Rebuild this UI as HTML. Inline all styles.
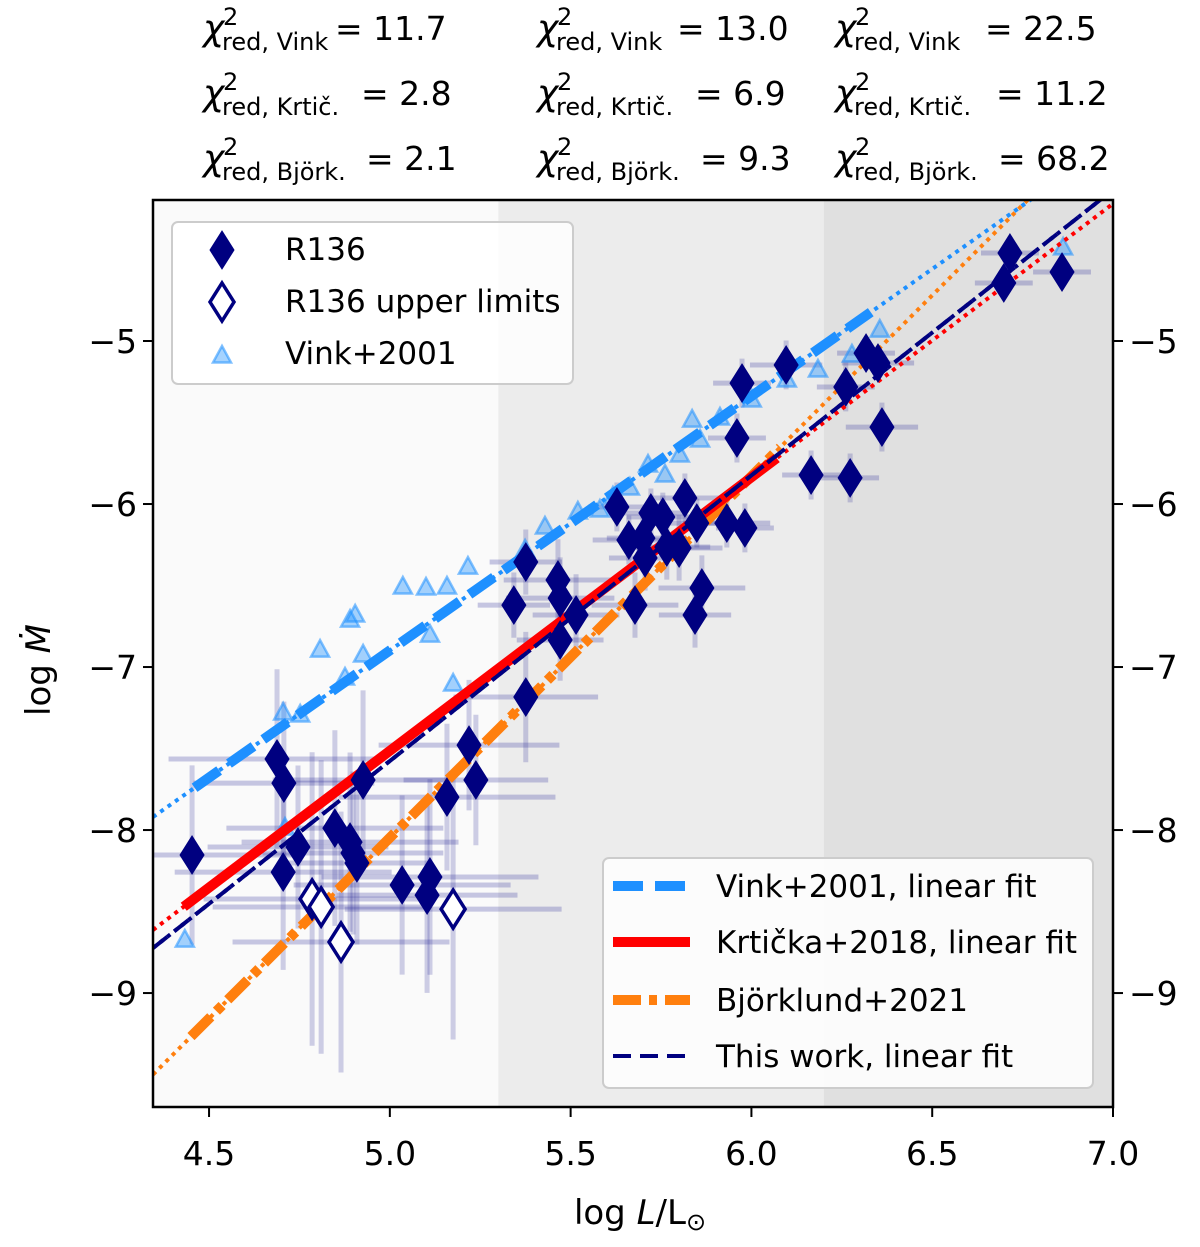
<!DOCTYPE html>
<html><head><meta charset="utf-8"><style>
body{margin:0;background:#fff}
svg text{font-family:"DejaVu Sans","Liberation Sans",sans-serif;fill:#000}
</style></head><body>
<svg id="chart" width="1200" height="1242" viewBox="0 0 1200 1242" xmlns="http://www.w3.org/2000/svg">
<g id="chi"></g>
<defs><clipPath id="clip"><rect x="153" y="200" width="960" height="907"/></clipPath></defs>
<g id="bg"></g>
<g id="plot" clip-path="url(#clip)"></g>
<rect x="153" y="200" width="960" height="907" fill="none" stroke="#000" stroke-width="2.5"/>
<g id="axes"></g>
<text x="640" y="1224" font-size="34" text-anchor="middle">log <tspan font-style="italic">L</tspan>/L<tspan font-size="24" dy="6">⊙</tspan></text>
<text transform="translate(50,670) rotate(-90)" font-size="34" text-anchor="middle">log <tspan font-style="italic">Ṁ</tspan></text>
<g id="legend1"></g>
<g id="legend2"></g>
</svg>
<script>
const NS="http://www.w3.org/2000/svg";
// ---- data ----
const r136X=[4.453,4.688,4.707,4.705,4.746,4.848,4.890,4.898,4.909,4.926,5.034,5.111,5.103,5.158,5.219,5.238,5.376,5.376,5.343,5.465,5.471,5.515,5.471,5.628,5.661,5.700,5.722,5.755,5.766,5.800,5.816,5.849,5.932,5.982,5.960,5.974,6.096,5.678,5.706,5.863,5.844,6.165,6.273,6.261,6.361,6.317,6.350,6.698,6.715,6.859];
const r136Y=[-8.153,-7.564,-7.712,-8.258,-8.104,-7.988,-8.074,-8.141,-8.202,-7.693,-8.337,-8.288,-8.399,-7.798,-7.479,-7.693,-7.184,-6.356,-6.620,-6.466,-6.577,-6.681,-6.834,-6.018,-6.221,-6.209,-6.055,-6.080,-6.264,-6.270,-5.963,-6.117,-6.117,-6.147,-5.595,-5.258,-5.147,-6.620,-6.331,-6.515,-6.681,-5.822,-5.840,-5.282,-5.528,-5.074,-5.135,-4.644,-4.460,-4.577];
const r136XErr=[0.30,0.30,0.25,0.30,0.25,0.30,0.30,0.25,0.20,0.25,0.30,0.30,0.25,0.30,0.25,0.20,0.20,0.10,0.10,0.15,0.15,0.12,0.12,0.08,0.10,0.10,0.10,0.10,0.12,0.12,0.10,0.12,0.12,0.08,0.08,0.08,0.10,0.12,0.10,0.12,0.10,0.08,0.08,0.08,0.10,0.08,0.10,0.08,0.08,0.08];
const r136YErr=[0.55,0.55,0.50,0.60,0.50,0.60,0.55,0.50,0.50,0.55,0.55,0.60,0.60,0.45,0.40,0.40,0.40,0.20,0.20,0.25,0.25,0.25,0.25,0.15,0.15,0.15,0.15,0.15,0.20,0.20,0.15,0.15,0.15,0.15,0.15,0.15,0.15,0.20,0.20,0.20,0.20,0.15,0.15,0.15,0.15,0.10,0.10,0.10,0.10,0.10];
const ulX=[4.785,4.810,4.865,5.175];
const ulY=[-8.423,-8.472,-8.687,-8.485];
const ulXErr=[0.30,0.30,0.30,0.30];
const ulYErr=[0.9,0.9,0.8,0.8];
const vinkX=[4.433,4.705,4.752,4.710,4.807,4.876,4.890,4.904,4.926,5.036,5.100,5.158,5.111,5.216,5.175,5.374,5.429,5.520,5.581,5.617,5.664,5.714,5.761,5.802,5.836,5.858,5.913,6.001,6.098,6.184,6.278,6.355,6.862];
const vinkY=[-8.675,-7.282,-7.294,-7.988,-6.896,-7.067,-6.712,-6.681,-6.926,-6.509,-6.515,-6.509,-6.804,-6.387,-7.104,-6.282,-6.141,-6.049,-6.037,-5.957,-5.902,-5.761,-5.822,-5.699,-5.485,-5.607,-5.472,-5.362,-5.239,-5.178,-5.086,-4.933,-4.429];
// fits: [intercept at x=4.345, slope, solid start, solid end]
const vinkFit=[-7.92,1.56,4.46,6.33];
const krtFit=[-8.613,1.678,4.43,6.07];
const thisFit=[-8.724,1.752,4.345,7.0];
const bjoFit=[-9.50,2.218,4.45,6.08];
const xTicks=[4.5,5.0,5.5,6.0,6.5,7.0];
const yTicks=[-5,-6,-7,-8,-9];
const chiCols=[["11.7","2.8","2.1"],["13.0","6.9","9.3"],["22.5","11.2","68.2"]];
const chiNames=["Vink","Krtič.","Björk."];
// ---- scales ----
const X0=4.345,X1=7.0,Y0=-4.135,Y1=-9.699,L=153,R=1113,T=200,B=1107;
const sx=v=>L+(v-X0)/(X1-X0)*(R-L);
const sy=v=>T+(v-Y0)/(Y1-Y0)*(B-T);
function el(tag,attrs,parent){const e=document.createElementNS(NS,tag);for(const k in attrs)e.setAttribute(k,attrs[k]);parent.appendChild(e);return e;}
const plot=document.getElementById('plot'),bg=document.getElementById('bg'),axes=document.getElementById('axes');
// background bands
let b1=el('rect',{x:L,y:T,width:sx(5.3)-L,height:B-T,fill:'#fafafa'},bg);


let b2=el('rect',{x:sx(5.3),y:T,width:sx(6.2)-sx(5.3),height:B-T,fill:'#ececec'},bg);


let b3=el('rect',{x:sx(6.2),y:T,width:R-sx(6.2),height:B-T,fill:'#e0e0e0'},bg);


// error bars
function errs(xs,ys,xe,ye){for(let i=0;i<xs.length;i++){
 let h=el('line',{x1:sx(xs[i]-xe[i]),x2:sx(xs[i]+xe[i]),y1:sy(ys[i]),y2:sy(ys[i]),stroke:'rgba(40,40,150,0.25)','stroke-width':5},plot);
 
 
 let v=el('line',{x1:sx(xs[i]),x2:sx(xs[i]),y1:sy(ys[i]-ye[i]),y2:sy(ys[i]+ye[i]),stroke:'rgba(40,40,150,0.22)','stroke-width':5},plot);
 
 }}
errs(r136X,r136Y,r136XErr,r136YErr);errs(ulX,ulY,ulXErr,ulYErr);
// triangles
function tri(cx,cy,s,parent){return el('path',{d:`M${cx},${cy-s} L${cx+s*0.9},${cy+s*0.65} L${cx-s*0.9},${cy+s*0.65}Z`,fill:'rgba(30,144,255,0.4)',stroke:'rgba(30,144,255,0.55)','stroke-width':2.5},parent);}
for(let i=0;i<vinkX.length;i++){const t=tri(sx(vinkX[i]),sy(vinkY[i]),10,plot);
 
 }
// fit lines
function fit(f,color,w,dash,name){
 const fy=x=>f[0]+f[1]*(x-4.345);
 const d1=el('line',{x1:sx(X0),y1:sy(fy(X0)),x2:sx(X1),y2:sy(fy(X1)),stroke:color,'stroke-width':4,'stroke-dasharray':'4 5'},plot);
 
 
 const s=el('line',{x1:sx(f[2]),y1:sy(fy(f[2])),x2:sx(f[3]),y2:sy(fy(f[3])),stroke:color,'stroke-width':w,'stroke-dasharray':dash},plot);
 
 }
fit(vinkFit,'#1e90ff',10,'30 12','vink-fit-line');
fit(bjoFit,'#ff7f0e',10,'28 8 8 8','bjorklund-line');
fit(krtFit,'#ff0000',10,'none','krticka-fit-line');
fit(thisFit,'#000080',4,'18 9','this-work-fit-line');
// diamonds
function dia(cx,cy,fill,parent){return el('path',{d:`M${cx},${cy-19} L${cx+12},${cy} L${cx},${cy+19} L${cx-12},${cy}Z`,fill:fill,stroke:'#000080','stroke-width':fill=='#fff'?3.5:1},parent);}
for(let i=0;i<r136X.length;i++){const d=dia(sx(r136X[i]),sy(r136Y[i]),'#000080',plot);
 
 }
for(let i=0;i<ulX.length;i++){const d=dia(sx(ulX[i]),sy(ulY[i]),'#fff',plot);
 
 }
// axes ticks
xTicks.forEach(t=>{const x=sx(t);
 el('line',{x1:x,x2:x,y1:B,y2:B+10,stroke:'#000','stroke-width':2},axes);
 const tx=el('text',{x:x,y:B+58,'font-size':33,'text-anchor':'middle'},axes);tx.textContent=t.toFixed(1);
 
 });
yTicks.forEach(t=>{const y=sy(t);
 el('line',{x1:L-10,x2:L,y1:y,y2:y,stroke:'#000','stroke-width':2},axes);
 el('line',{x1:R,x2:R+10,y1:y,y2:y,stroke:'#000','stroke-width':2},axes);
 const a=el('text',{x:L-16,y:y+12,'font-size':33,'text-anchor':'end'},axes);a.textContent='−'+Math.abs(t);
 
 
 const b=el('text',{x:R+16,y:y+12,'font-size':33,'text-anchor':'start'},axes);b.textContent='−'+Math.abs(t);
 
 });
// chi annotations
const chi=document.getElementById('chi');
const colX=[203,537,835],rowY=[40,105,170],eqOff=[[132,158,163],[140,158,163],[150,161,163]];
chiCols.forEach((col,c)=>col.forEach((v,r)=>{
 const g=el('g',{},chi);
 
 
 const x=colX[c],y=rowY[r];
 const t1=el('text',{x:x,y:y,'font-size':36,'font-style':'italic','font-family':'"Liberation Serif",serif'},g);t1.textContent='χ';
 const t2=el('text',{x:x+20,y:y-15,'font-size':24},g);t2.textContent='2';
 const t3=el('text',{x:x+19,y:y+10,'font-size':24},g);t3.textContent='red, '+chiNames[r];
 const t4=el('text',{x:x+eqOff[c][r],y:y,'font-size':33},g);t4.textContent='= '+v;}));
// legend 1
const lg1=document.getElementById('legend1');
el('rect',{x:172,y:222,width:401,height:162,rx:6,fill:'rgba(255,255,255,0.85)',stroke:'#ccc','stroke-width':2},lg1);
dia(222,250,'#000080',lg1);dia(222,302,'#fff',lg1);tri(222,356,10,lg1);
[['R136',260],['R136 upper limits',312],['Vink+2001',364]].forEach(a=>{const t=el('text',{x:285,y:a[1],'font-size':31},lg1);t.textContent=a[0];
 
 });
// legend 2
const lg2=document.getElementById('legend2');
el('rect',{x:603,y:858,width:490,height:230,rx:6,fill:'rgba(255,255,255,0.85)',stroke:'#ccc','stroke-width':2},lg2);
[['Vink+2001, linear fit','#1e90ff',10,'30 12',886],['Krtička+2018, linear fit','#ff0000',10,'none',942],['Björklund+2021','#ff7f0e',10,'28 8 8 8',1000],['This work, linear fit','#000080',4,'18 9',1056]].forEach(a=>{
 el('line',{x1:613,x2:690,y1:a[4],y2:a[4],stroke:a[1],'stroke-width':a[2],'stroke-dasharray':a[3]},lg2);
 const t=el('text',{x:716,y:a[4]+11,'font-size':31},lg2);t.textContent=a[0];
 
 });
</script>
</body></html>
